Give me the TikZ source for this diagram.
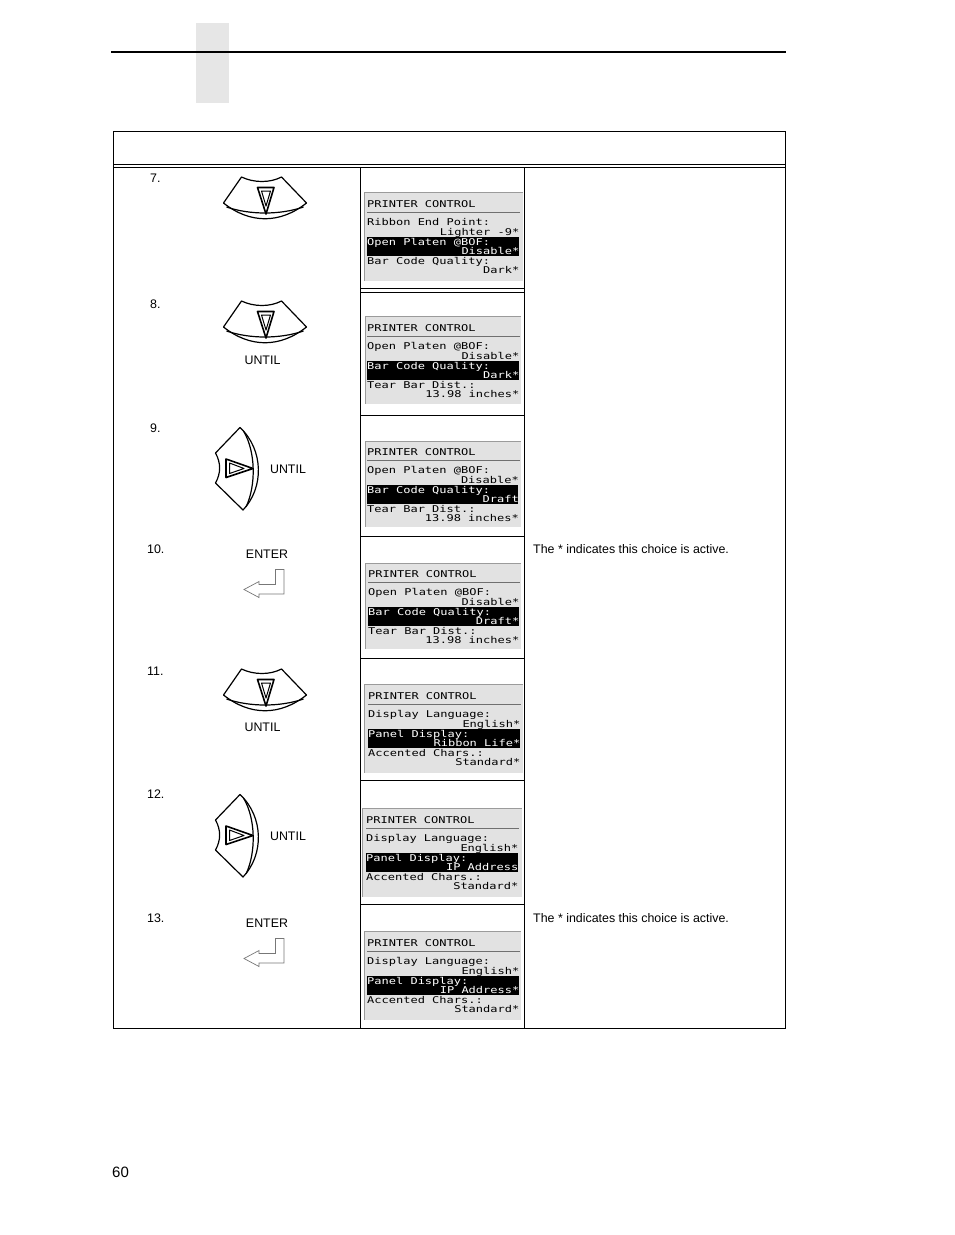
\documentclass[tikz,border=0pt]{standalone}
\usepackage{fontspec}
\usepackage{graphicx}
\setmainfont{Liberation Sans}
\newfontfamily\lcdfont{DejaVu Sans Mono}
\definecolor{lcdbg}{HTML}{E2E2E2}
\definecolor{lcdrule}{HTML}{707070}
\definecolor{tabgray}{HTML}{E6E6E6}
\definecolor{entergray}{HTML}{777777}
\newcommand{\lcdtxt}[1]{\scalebox{1}[0.78]{#1}}
\tikzset{
  tableline/.style={draw=black,line width=0.9pt},
  label/.style={inner sep=0pt,font=\fontsize{12.4}{14}\selectfont,text=black},
  steplabel/.style={label,anchor=west},
  lcdl/.style={inner sep=0pt,anchor=base west,font=\lcdfont\fontsize{12}{12}\selectfont,text=black},
  lcdr/.style={inner sep=0pt,anchor=base east,font=\lcdfont\fontsize{12}{12}\selectfont,text=black},
  lcdinvl/.style={lcdl,text=white},
  lcdinvr/.style={lcdr,text=white},
  btn/.style={draw=black,line width=1.2pt,line join=round},
  btntri/.style={draw=black,line width=1.6pt,line join=round},
  btnthin/.style={draw=black,line width=1pt,line join=round},
  enterarrow/.style={draw=entergray,line width=0.7pt,line join=miter},
}
% panel geometry: x1,y1,x2,y2, text x, title baseline, right text x
\newcommand{\lcdbox}[8]{%
  \def\lid{#1}\def\ltx{#6}\def\lty{#7}\def\lrx{#8}%
  \fill[lcdbg] (#2,#3) rectangle (#4,#5);
  \draw[lcdrule!70,line width=0.9pt] (#2,#3) -- (#4,#3);
  \draw[lcdrule!70,line width=0.9pt] (#2,#3) -- (#2,#5);
}
\newcommand{\lcdlines}[7]{%
  \fill[black] ({\ltx},{\lty+29.7}) rectangle ({\lrx-0.5},{\lty+49});
  \draw[lcdrule,line width=1pt] ({\ltx},{\lty+5}) -- ({\lrx+1},{\lty+5});
  \node[lcdl] (\lid t) at (\ltx,\lty) {\lcdtxt{#1}};
  \node[lcdl] (\lid a) at ({\ltx},{\lty+18.8}) {\lcdtxt{#2}};
  \node[lcdr] (\lid b) at ({\lrx+0.5},{\lty+28.3}) {\lcdtxt{#3}};
  \node[lcdinvl] (\lid c) at ({\ltx},{\lty+38}) {\lcdtxt{#4}};
  \node[lcdinvr] (\lid d) at ({\lrx+0.5},{\lty+47.5}) {\lcdtxt{#5}};
  \node[lcdl] (\lid e) at ({\ltx},{\lty+57}) {\lcdtxt{#6}};
  \node[lcdr] (\lid f) at ({\lrx+0.5},{\lty+66.5}) {\lcdtxt{#7}};
}
\newcommand{\downbtn}[2]{%
  \begin{scope}[shift={(#1,#2)}]
    \draw[btn] (241.5,177) .. controls (254,183) and (270,183) .. (281.5,177)
      -- (306.5,203) .. controls (280,224) and (250,224) .. (223.5,203) -- cycle;
    \draw[btn] (226.5,207) .. controls (250,215) and (280,215) .. (303.5,207);
    \draw[btntri] (257.5,187.5) -- (274,187.5) -- (266,214) -- cycle;
    \draw[btnthin] (261.5,191) -- (270.5,191) -- (266,206) -- cycle;
  \end{scope}
}
\newcommand{\rightbtn}[2]{%
  \begin{scope}[shift={(#1,#2)}]
    \draw[btn] (240,427.5) .. controls (264,450) and (264,488) .. (243,510)
      -- (215.5,483) .. controls (221,473) and (221,463) .. (215.5,453) -- cycle;
    \draw[btn] (243.5,431) .. controls (256,452) and (256,486) .. (246,507);
    \draw[btntri] (226,459) -- (253,468.5) -- (226,477.5) -- cycle;
    \draw[btnthin] (229.5,463) -- (244,468.5) -- (229.5,473.5) -- cycle;
  \end{scope}
}
\newcommand{\enterbtn}[2]{%
  \begin{scope}[shift={(#1,#2)}]
    \draw[enterarrow] (244,589.5) -- (259,581.5) -- (259,584.5) -- (275.5,584.5)
      -- (275.5,569.5) -- (284,569.5) -- (284,594) -- (259,594) -- (259,597.5) -- cycle;
  \end{scope}
}
\begin{document}
\begin{tikzpicture}[x=1pt,y=-1pt]
\path[use as bounding box,fill=white] (0,0) rectangle (954,1235);
% page furniture
\fill[tabgray] (196,23) rectangle (229,103);
\draw[black,line width=1.5pt] (111,52) -- (786,52);
\node[inner sep=0pt,anchor=base west,font=\fontsize{15}{17}\selectfont] (pageno) at (112,1177) {60};
% table
\draw[tableline] (113.5,131.5) rectangle (785.5,1028.5);
\draw[tableline] (113.5,164) -- (785.5,164);
\draw[tableline] (113.5,167.5) -- (785.5,167.5);
\draw[tableline] (360.5,167.5) -- (360.5,1028.5);
\draw[tableline] (524.5,167.5) -- (524.5,1028.5);
\draw[tableline] (360.5,288) -- (524.5,288);
\draw[tableline] (360.5,292) -- (524.5,292);
\draw[tableline] (360.5,415.5) -- (524.5,415.5);
\draw[tableline] (360.5,536.5) -- (524.5,536.5);
\draw[tableline] (360.5,658.5) -- (524.5,658.5);
\draw[tableline] (360.5,780.5) -- (524.5,780.5);
\draw[tableline] (360.5,904.5) -- (524.5,904.5);
% step numbers
\node[steplabel] (n7) at (150,178) {7.};
\node[steplabel] (n8) at (150,304) {8.};
\node[steplabel] (n9) at (150,428) {9.};
\node[steplabel] (n10) at (147,549) {10.};
\node[steplabel] (n11) at (147,671) {11.};
\node[steplabel] (n12) at (147,794) {12.};
\node[steplabel] (n13) at (147,918) {13.};
% keys
\downbtn{0}{0}
\downbtn{0}{124}
\rightbtn{0}{0}
\enterbtn{0}{0}
\downbtn{0}{492}
\rightbtn{0}{367}
\enterbtn{0}{369}
\node[label] (u8) at (262.5,360) {UNTIL};
\node[label] (u9) at (288,469) {UNTIL};
\node[label] (e10) at (267,554) {ENTER};
\node[label] (u11) at (262.5,727) {UNTIL};
\node[label] (u12) at (288,836) {UNTIL};
\node[label] (e13) at (267,923) {ENTER};
% panels
\lcdbox{p}{364}{192}{523}{281}{367}{207}{519}
\lcdlines{PRINTER CONTROL}{Ribbon End Point:}{Lighter -9*}{Open Platen @BOF:}{Disable*}{Bar Code Quality:}{Dark*}
\lcdbox{q}{365}{316}{521}{404}{367}{331}{519}
\lcdlines{PRINTER CONTROL}{Open Platen @BOF:}{Disable*}{Bar Code Quality:}{Dark*}{Tear Bar Dist.:}{13.98 inches*}
\lcdbox{r}{365}{441}{521}{527}{367}{455}{518.5}
\lcdlines{PRINTER CONTROL}{Open Platen @BOF:}{Disable*}{Bar Code Quality:}{Draft}{Tear Bar Dist.:}{13.98 inches*}
\lcdbox{s}{365}{563}{521}{649}{368}{577}{519}
\lcdlines{PRINTER CONTROL}{Open Platen @BOF:}{Disable*}{Bar Code Quality:}{Draft*}{Tear Bar Dist.:}{13.98 inches*}
\lcdbox{v}{364}{684}{523}{773}{368}{699}{520}
\lcdlines{PRINTER CONTROL}{Display Language:}{English*}{Panel Display:}{Ribbon Life*}{Accented Chars.:}{Standard*}
\lcdbox{w}{362}{808}{522}{897}{366}{823}{518}
\lcdlines{PRINTER CONTROL}{Display Language:}{English*}{Panel Display:}{IP Address}{Accented Chars.:}{Standard*}
\lcdbox{z}{364}{931}{521}{1020}{367}{946}{519}
\lcdlines{PRINTER CONTROL}{Display Language:}{English*}{Panel Display:}{IP Address*}{Accented Chars.:}{Standard*}
% notes
\node[steplabel] (c10) at (533,549) {The * indicates this choice is active.};
\node[steplabel] (c13) at (533,918) {The * indicates this choice is active.};
\end{tikzpicture}
\end{document}
